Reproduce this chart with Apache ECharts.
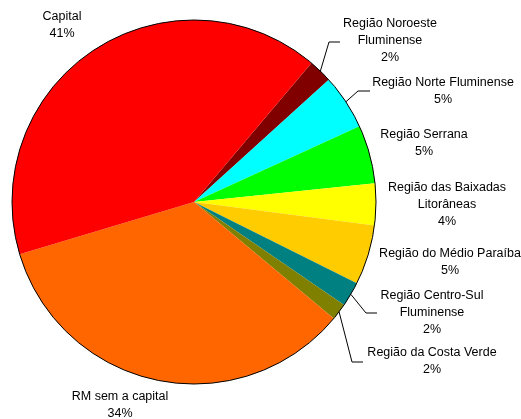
<!DOCTYPE html>
<html><head><meta charset="utf-8">
<script src="https://cdn.jsdelivr.net/npm/echarts@6/dist/echarts.min.js"></script>
<style>html,body{margin:0;padding:0;background:#fff}#c{width:521px;height:419px}</style>
</head><body><div id="c"></div>
<script>
// Data (clockwise order starting after "Capital")
const categories = [
  'Região Noroeste\nFluminense',
  'Região Norte Fluminense',
  'Região Serrana',
  'Região das Baixadas\nLitorâneas',
  'Região do Médio Paraíba',
  'Região Centro-Sul\nFluminense',
  'Região da Costa Verde',
  'RM sem a capital',
  'Capital'
];
const values = [2.1, 4.9, 5.2, 3.7, 5.3, 2.2, 1.5, 34.3, 40.8];
const pctLabels = ['2%', '5%', '5%', '4%', '5%', '2%', '2%', '34%', '41%'];

// Styling / layout (not data)
const colors = ['#800000', '#00FFFF', '#00FF00', '#FFFF00', '#FFCC00', '#008080', '#808000', '#FF6600', '#FF0000'];
const labelPos = [[390, 41], [443, 91], [424, 143.5], [447, 205], [450, 262.5], [432, 312.5], [432, 361], [120, 405.5], [62, 25]];
const linePts = [
  [[329, 42], [340, 42]],
  [[358, 91], [370, 91]],
  null, null, null,
  [[366, 313], [377, 313]],
  [[352, 362], [363, 362]],
  null, null
];

const chart = echarts.init(document.getElementById('c'), null, {renderer: 'canvas'});
chart.setOption({
  animation: false,
  backgroundColor: '#fff',
  series: [{
    type: 'pie',
    center: [194, 202],
    radius: 182,
    startAngle: 49.8,
    clockwise: true,
    avoidLabelOverlap: false,
    minAngle: 0,
    silent: true,
    data: categories.map((c, i) => ({
      name: c, value: values[i],
      itemStyle: {color: colors[i]},
      labelLine: {show: !!linePts[i]}
    })),
    itemStyle: {borderWidth: 0},
    label: {
      show: true,
      position: 'outside',
      formatter: p => p.name + '\n' + pctLabels[p.dataIndex],
      fontFamily: 'Liberation Sans, Arial, sans-serif',
      fontSize: 12.5,
      lineHeight: 17,
      color: '#000',
      align: 'center'
    },
    labelLine: {lineStyle: {color: '#000', width: 1}, length: 10, length2: 10},
    labelLayout: function (params) {
      const i = params.dataIndex;
      const res = {x: labelPos[i][0], y: labelPos[i][1], align: 'center', verticalAlign: 'middle'};
      if (linePts[i] && params.labelLinePoints) {
        res.labelLinePoints = [params.labelLinePoints[0], linePts[i][0], linePts[i][1]];
      }
      return res;
    }
  }, {
    type: 'pie',
    center: [194, 202],
    radius: 182,
    silent: true,
    label: {show: false},
    labelLine: {show: false},
    data: [{value: 1, itemStyle: {color: 'rgba(0,0,0,0)', borderColor: '#000', borderWidth: 1}}]
  }]
});
</script></body></html>
